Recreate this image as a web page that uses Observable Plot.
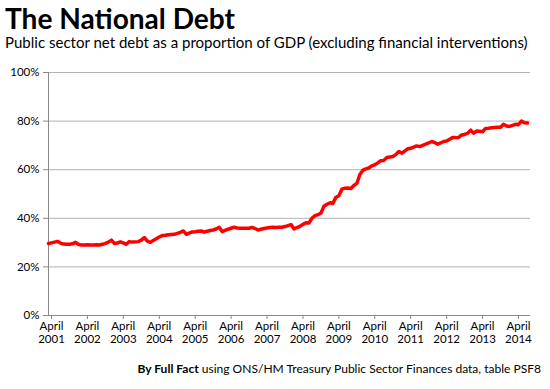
<!DOCTYPE html>
<html>
<head>
<meta charset="utf-8">
<script src="https://cdn.jsdelivr.net/npm/d3@7"></script>
<script src="https://cdn.jsdelivr.net/npm/@observablehq/plot@0.6"></script>
<style>
  html, body { margin: 0; padding: 0; background: #fff; }
  #wrap { position: relative; width: 550px; height: 389px; overflow: hidden; font-family: Lato, "Open Sans", sans-serif; }
  #wrap svg.txt { position: absolute; left: 0; overflow: visible; }
  #chart { position: absolute; left: 0; top: 55px; }
</style>
</head>
<body>
<div id="wrap">
  <svg class="txt" id="head" width="550" height="55" style="top:0">
    <text id="title" x="5" y="29" font-family="Lato" font-weight="bold" font-size="26" fill="#000">The National Debt</text>
    <text id="subtitle" x="5" y="48" font-family="Lato" font-size="16" fill="#000">Public sector net debt as a proportion of GDP (excluding financial interventions)</text>
  </svg>
  <div id="chart"></div>
  <svg class="txt" id="foot" width="550" height="34" style="top:355px">
    <text id="caption" x="541" y="18" text-anchor="end" font-family="Lato" font-size="12" fill="#000"><tspan font-weight="bold">By Full Fact</tspan> using ONS/HM Treasury Public Sector Finances data, table PSF8</text>
  </svg>
</div>
<script>
// ---- data ----
const startYear = 2001;      // first month: April 2001
const startMonthIndex = 3;   // April (0-based)
// Public sector net debt ex. financial interventions, % of GDP, monthly (fiscal years April..March)
const fy2001 = [29.6, 29.9, 30.2, 30.5, 29.8, 29.4, 29.3, 29.3, 29.5, 30.1, 29.2, 29.0];
const fy2002 = [29.0, 29.1, 29.0, 29.0, 29.1, 29.0, 29.3, 29.7, 30.2, 31.0, 29.6, 29.8];
const fy2003 = [30.3, 29.9, 29.3, 30.4, 30.2, 30.3, 30.4, 31.0, 32.1, 30.6, 30.1, 30.9];
const fy2004 = [31.6, 32.3, 32.9, 33.0, 33.2, 33.3, 33.4, 33.8, 34.2, 34.8, 33.4, 33.9];
const fy2005 = [34.4, 34.5, 34.7, 34.8, 34.3, 34.7, 35.0, 35.2, 35.6, 36.3, 34.5, 35.0];
const fy2006 = [35.5, 35.9, 36.3, 36.0, 35.9, 35.9, 35.9, 35.9, 36.3, 35.8, 35.2, 35.5];
const fy2007 = [35.8, 36.0, 36.2, 36.3, 36.2, 36.3, 36.3, 36.6, 37.0, 37.4, 35.6, 36.2];
const fy2008 = [36.7, 37.5, 38.2, 38.1, 40.0, 41.1, 41.5, 42.2, 45.0, 45.8, 46.4, 46.1];
const fy2009 = [48.6, 49.3, 52.0, 52.4, 52.5, 52.3, 53.5, 54.4, 58.0, 59.8, 60.3, 60.7];
const fy2010 = [61.6, 62.0, 62.8, 63.7, 63.8, 65.0, 65.2, 65.4, 66.2, 67.5, 66.8, 67.6];
const fy2011 = [68.6, 68.8, 69.3, 69.8, 69.5, 70.0, 70.5, 71.0, 71.6, 71.2, 70.5, 71.0];
const fy2012 = [71.6, 71.8, 72.5, 73.2, 73.2, 73.3, 74.3, 74.5, 75.0, 76.3, 75.0, 75.9];
const fy2013 = [75.8, 75.6, 77.0, 77.1, 77.3, 77.4, 77.5, 77.5, 78.7, 78.0, 77.8, 78.2];
const fy2014 = [78.7, 78.5, 80.0, 79.3, 79.2];
const values = [].concat(fy2001, fy2002, fy2003, fy2004, fy2005, fy2006, fy2007,
                         fy2008, fy2009, fy2010, fy2011, fy2012, fy2013, fy2014);
const tickYears = [2001, 2002, 2003, 2004, 2005, 2006, 2007, 2008, 2009, 2010, 2011, 2012, 2013, 2014];
const tickMonthLabel = "April";
const yTicks = [0, 20, 40, 60, 80, 100];

// ---- build table ----
const data = values.map((v, i) => ({
  date: new Date(Date.UTC(startYear, startMonthIndex + i, 1)),
  value: v
}));
const xStart = new Date(Date.UTC(startYear, startMonthIndex, 1));
const xEnd = new Date(Date.UTC(startYear, startMonthIndex + values.length, 1));
const xTicks = tickYears.map(y => new Date(Date.UTC(y, startMonthIndex, 1)));

const chart = Plot.plot({
  width: 550,
  height: 300,
  marginTop: 17,
  marginBottom: 40,
  marginLeft: 48,
  marginRight: 20,
  style: { fontFamily: "Lato, 'Open Sans', sans-serif", fontSize: "11.5px", color: "#000", background: "transparent" },
  x: { type: "utc", domain: [xStart, xEnd] },
  y: { domain: [0, 100] },
  marks: [
    Plot.gridY(yTicks.filter(d => d > 0), { stroke: "#b3b3b3", strokeOpacity: 1 }),
    Plot.axisY({
      ticks: yTicks, tickFormat: d => d + "%", tickSize: 5, tickPadding: 4,
      stroke: "#888", fill: "#000", label: null
    }),
    Plot.axisX({
      ticks: xTicks, tickFormat: () => tickMonthLabel,
      tickSize: 4, tickPadding: 2, dx: 3,
      stroke: "#888", fill: "#000", label: null
    }),
    Plot.axisX({
      ticks: xTicks, tickFormat: d => String(d.getUTCFullYear()),
      tickSize: 0, tickPadding: 19, dx: 3,
      fill: "#000", label: null
    }),
    Plot.ruleX([xStart], { y1: 0, y2: 100, stroke: "#888" }),
    Plot.ruleY([0], { stroke: "#888" }),
    Plot.lineY(data, { x: "date", y: "value", stroke: "#ff0000", strokeWidth: 3.5, strokeLinejoin: "round", strokeLinecap: "round" })
  ]
});
document.getElementById("chart").appendChild(chart);

// fit header / footer text widths to the reference
function fit(id, target) {
  const el = document.getElementById(id);
  const size = parseFloat(el.getAttribute("font-size"));
  const w = el.getComputedTextLength();
  if (w > 0) el.setAttribute("font-size", (size * target / w).toFixed(2));
}
fit("title", 230);
fit("subtitle", 523);
fit("caption", 404);
</script>
</body>
</html>
